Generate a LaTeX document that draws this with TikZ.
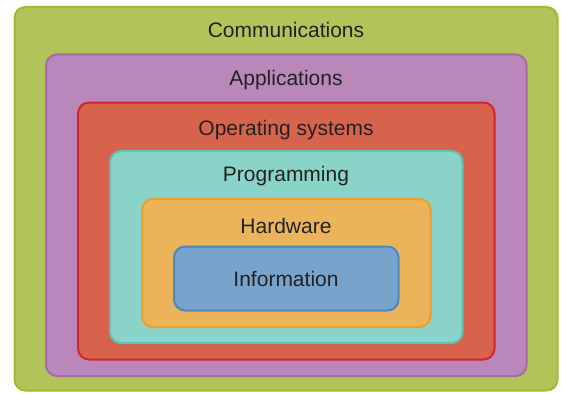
\documentclass[tikz,border=0pt]{standalone}
\usepackage{fontspec}
\setmainfont{Liberation Sans}
\definecolor{gfill}{HTML}{B2C35A}\definecolor{gline}{HTML}{A3B92E}
\definecolor{pfill}{HTML}{BA87BB}\definecolor{pline}{HTML}{A76AAA}
\definecolor{rfill}{HTML}{D7634D}\definecolor{rline}{HTML}{D0262F}
\definecolor{tfill}{HTML}{8AD3C8}\definecolor{tline}{HTML}{5EC1B5}
\definecolor{ofill}{HTML}{EBB45B}\definecolor{oline}{HTML}{E9A02A}
\definecolor{bfill}{HTML}{78A3CA}\definecolor{bline}{HTML}{4B89BC}
\definecolor{txtc}{HTML}{222222}
\tikzset{
  layer/.style 2 args={draw=#1, fill=#2, line width=2pt, rounded corners=11pt, inner sep=0pt},
  lbl/.style={anchor=base, text=txtc, font=\fontsize{21}{24}\selectfont, inner sep=0pt}
}
\begin{document}
\begin{tikzpicture}[x=1pt,y=-1pt]
\useasboundingbox (0,0) rectangle (561,393);
\fill[white] (0,0) rectangle (561,393);
\draw[layer={gline}{gfill}] (14.5,7) rectangle (557.5,390.5);
\coordinate (comm) at (286,37.7);
\draw[layer={pline}{pfill}] (46,54.5) rectangle (526.5,376);
\coordinate (appl) at (286,85);
\draw[layer={rline}{rfill}] (78,102.5) rectangle (494.5,359.5);
\coordinate (opsy) at (286,135);
\draw[layer={tline}{tfill}] (110,151) rectangle (462.5,343);
\coordinate (prog) at (286,181);
\draw[layer={oline}{ofill}] (142,199) rectangle (430.5,327);
\coordinate (hard) at (286,233.3);
\draw[layer={bline}{bfill}] (174,246.5) rectangle (398.5,310.5);
\coordinate (info) at (286,286);
\node[lbl] (commT) at (comm) {Communications};
\node[lbl] (applT) at (appl) {Applications};
\node[lbl] (opsyT) at (opsy) {Operating systems};
\node[lbl] (progT) at (prog) {Programming};
\node[lbl] (hardT) at (hard) {Hardware};
\node[lbl] (infoT) at (info) {Information};
\end{tikzpicture}
\end{document}
